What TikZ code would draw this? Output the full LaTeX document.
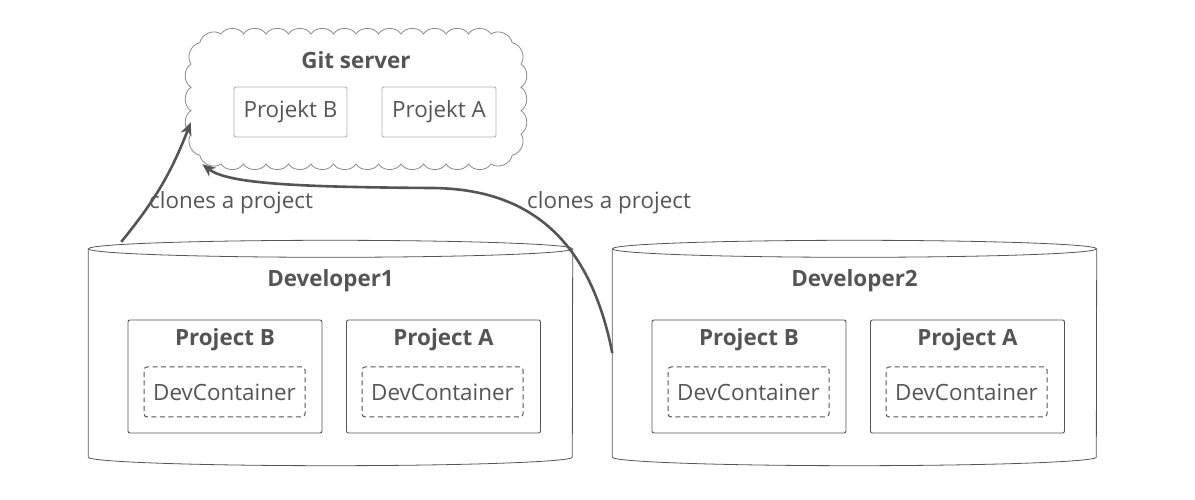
\documentclass[tikz,border=0pt]{standalone}
\usepackage{fontspec}
\setmainfont{Open Sans}
\usepackage{tikz}
\usetikzlibrary{arrows.meta, calc}
\definecolor{ink}{HTML}{555555}
\definecolor{cloudline}{HTML}{8A8A8A}
\definecolor{boxline}{HTML}{B0B0B0}

\begin{document}
\begin{tikzpicture}[x=1pt,y=1pt]
      \tikzset{txt/.style={text=ink, font=\fontsize{22.4}{27}\selectfont, inner sep=0pt},
        title/.style={txt, font=\fontsize{22.4}{27}\selectfont\bfseries},
        puff/.style={bend right=58},
        cloudline/.style={draw=cloudline, line width=0.8pt},
        repobox/.style={txt, draw=boxline, line width=0.9pt, rounded corners=2pt,
          minimum height=50, inner xsep=0pt},
        projbox/.style={draw=ink, line width=0.9pt, rounded corners=2pt,
          minimum width=194, minimum height=113},
        devbox/.style={txt, draw=ink, line width=1pt, dash pattern=on 5pt off 3.5pt,
          rounded corners=3pt, minimum width=161, minimum height=50},
        cylline/.style={draw=ink, line width=0.8pt},
        flow/.style={draw=ink, line width=2.6pt, -{Stealth[length=13pt, width=11pt, inset=4pt]}}
      }
      \useasboundingbox (0,0) rectangle (1195,500);

      % git server
      \node [minimum width=330, minimum height=130, inner sep=0pt] (server) at (356,401) {};
      \begin{scope}[shift={(server.center)}]
        \draw [cloudline] (135,65)
          \foreach \k in {1,...,12} { to [puff] ({135-22.5*\k},65) }
          to [puff] (-156.2,56.2) to [puff] (-165,35)
          \foreach \k in {1,2,3} { to [puff] (-165,{35-23.33*\k}) }
          to [puff] (-156.2,-56.2) to [puff] (-135,-65)
          \foreach \k in {1,...,12} { to [puff] ({-135+22.5*\k},-65) }
          to [puff] (156.2,-56.2) to [puff] (165,-35)
          \foreach \k in {1,2,3} { to [puff] (165,{-35+23.33*\k}) }
          to [puff] (156.2,56.2) to [puff] (135,65);
      \end{scope}
      \node [title] (servertitle) at (356,440) {Git server};
      \node [repobox, minimum width=113] (gitb) at (290.5,388) {Projekt B};
      \node [repobox, minimum width=114] (gita) at (439,388) {Projekt A};

      % developers
      \foreach \d/\cx in {1/330.5, 2/854.5} {
        \node [minimum width=484, minimum height=208, inner sep=0pt] (dev\d) at (\cx,147) {};
        \draw [cylline] (dev\d.north west) -- (dev\d.south west)
          arc [start angle=180, end angle=360, x radius=242, y radius=8.5]
          -- (dev\d.north east);
        \draw [cylline] (dev\d.north) ellipse [x radius=242, y radius=8.5];
        \node [title] (dev\d title) at (\cx,219) {Developer\d};

        \node [projbox] (dev\d b) at (\cx-105.5,123.5) {};
        \node [title] (dev\d btitle) at (\cx-105.5,160) {Project B};
        \node [devbox] (dev\d bc) at (\cx-106,108) {DevContainer};

        \node [projbox] (dev\d a) at (\cx+113,123.5) {};
        \node [title] (dev\d atitle) at (\cx+113,160) {Project A};
        \node [devbox] (dev\d ac) at (\cx+112,108) {DevContainer};
      }

      % clone arrows
      \coordinate (d1top) at ($(dev1.north west)+(33,7)$);
      \draw [flow] (d1top) to [bend right=9] (server.188);
      \draw [flow] (dev2.west) .. controls (590,260) and (530,312) .. (430,312)
        .. controls (300,313) and (228,316) .. (server.203);

      \node [txt, anchor=west] (clone1) at (149,297) {clones a project};
      \node [txt, anchor=west] (clone2) at (527,297) {clones a project};
\end{tikzpicture}
\end{document}
